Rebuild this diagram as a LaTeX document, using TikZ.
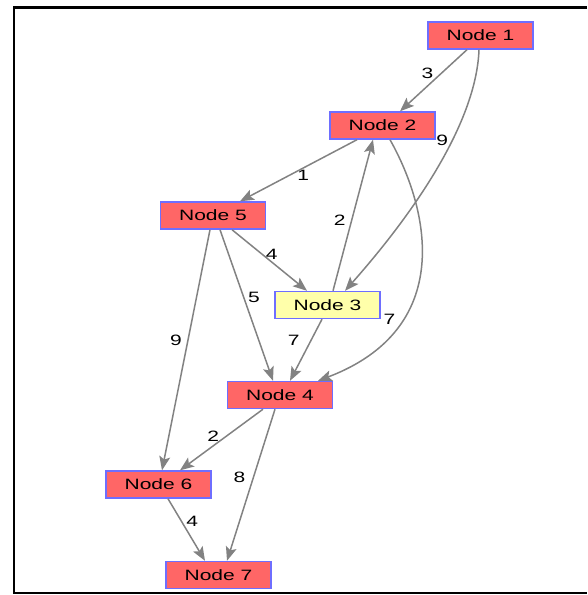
\documentclass[tikz,border=0pt]{standalone}
\usepackage{fontspec}
\usetikzlibrary{arrows.meta}
\newfontfamily\graphfont[FakeStretch=1.4]{Liberation Sans}
\definecolor{nodered}{RGB}{255,102,102}
\definecolor{nodeyellow}{RGB}{255,255,170}
\definecolor{nodeborder}{RGB}{110,110,255}
\definecolor{edgegray}{RGB}{130,130,130}
\begin{document}
\begin{tikzpicture}[x=1pt,y=-1pt,
  graphnode/.style={draw=nodeborder, line width=1.4pt, fill=nodered,
    minimum width=105pt, minimum height=27pt, inner sep=0pt,
    font=\graphfont\fontsize{15}{15}\selectfont},
  picked/.style={fill=nodeyellow},
  link/.style={draw=edgegray, line width=1.5pt,
    -{Stealth[length=14pt,width=11pt,inset=3pt]}},
  weight/.style={font=\graphfont\fontsize{15}{15}\selectfont, inner sep=0pt}]
\useasboundingbox (0,0) rectangle (587,595);
% frame
\draw[line width=2.6pt] (587,7.3) -- (14,7.3) -- (14,593) -- (587,593);
% nodes
\node[graphnode] (n1) at (480.5,35.5) {Node 1};
\node[graphnode] (n2) at (382.5,125.5) {Node 2};
\node[graphnode] (n5) at (213,215.5) {Node 5};
\node[graphnode,picked] (n3) at (327.5,305) {Node 3};
\node[graphnode] (n4) at (280,395) {Node 4};
\node[graphnode] (n6) at (158.5,484.5) {Node 6};
\node[graphnode] (n7) at (218.5,575) {Node 7};
% edges
\draw[link] ([xshift=-13.5]n1.south) -- node[weight,pos=0.38,xshift=-14]{3} ([xshift=17.5]n2.north);
\draw[link] ([xshift=-1.5]n1.south) .. controls +(-3,81) and +(55,-62) .. node[weight,pos=0.34,xshift=-12,yshift=-4]{9} ([xshift=17.5]n3.north);
\draw[link] ([xshift=-25.5]n2.south) -- node[weight,pos=0.46,yshift=-7]{1} ([xshift=27]n5.north);
\draw[link] ([xshift=5.5]n3.north) -- node[weight,pos=0.47,xshift=-12]{2} ([xshift=-9.5]n2.south);
\draw[link] ([xshift=7.5]n2.south) .. controls +(40,71) and +(137,-52) .. node[weight,pos=0.7,xshift=-12]{7} ([xshift=38]n4.north);
\draw[link] ([xshift=19]n5.south) -- node[weight,pos=0.53,yshift=8]{4} ([xshift=-20.5]n3.north);
\draw[link] ([xshift=7]n5.south) -- node[weight,pos=0.45,xshift=10]{5} ([xshift=-7]n4.north);
\draw[link] ([xshift=-3]n5.south) -- node[weight,pos=0.46,xshift=-12]{9} ([xshift=3.5]n6.north);
\draw[link] ([xshift=-5.5]n3.south) -- node[weight,pos=0.35,xshift=-17]{7} ([xshift=10]n4.north);
\draw[link] ([xshift=-17]n4.south) -- node[weight,pos=0.6,yshift=10]{2} ([xshift=21.5]n6.north);
\draw[link] ([xshift=-5]n4.south) -- node[weight,pos=0.45,xshift=-14]{8} ([xshift=8.5]n7.north);
\draw[link] ([xshift=9.5]n6.south) -- node[weight,pos=0.36,xshift=11]{4} ([xshift=-13.5]n7.north);
\end{tikzpicture}
\end{document}
